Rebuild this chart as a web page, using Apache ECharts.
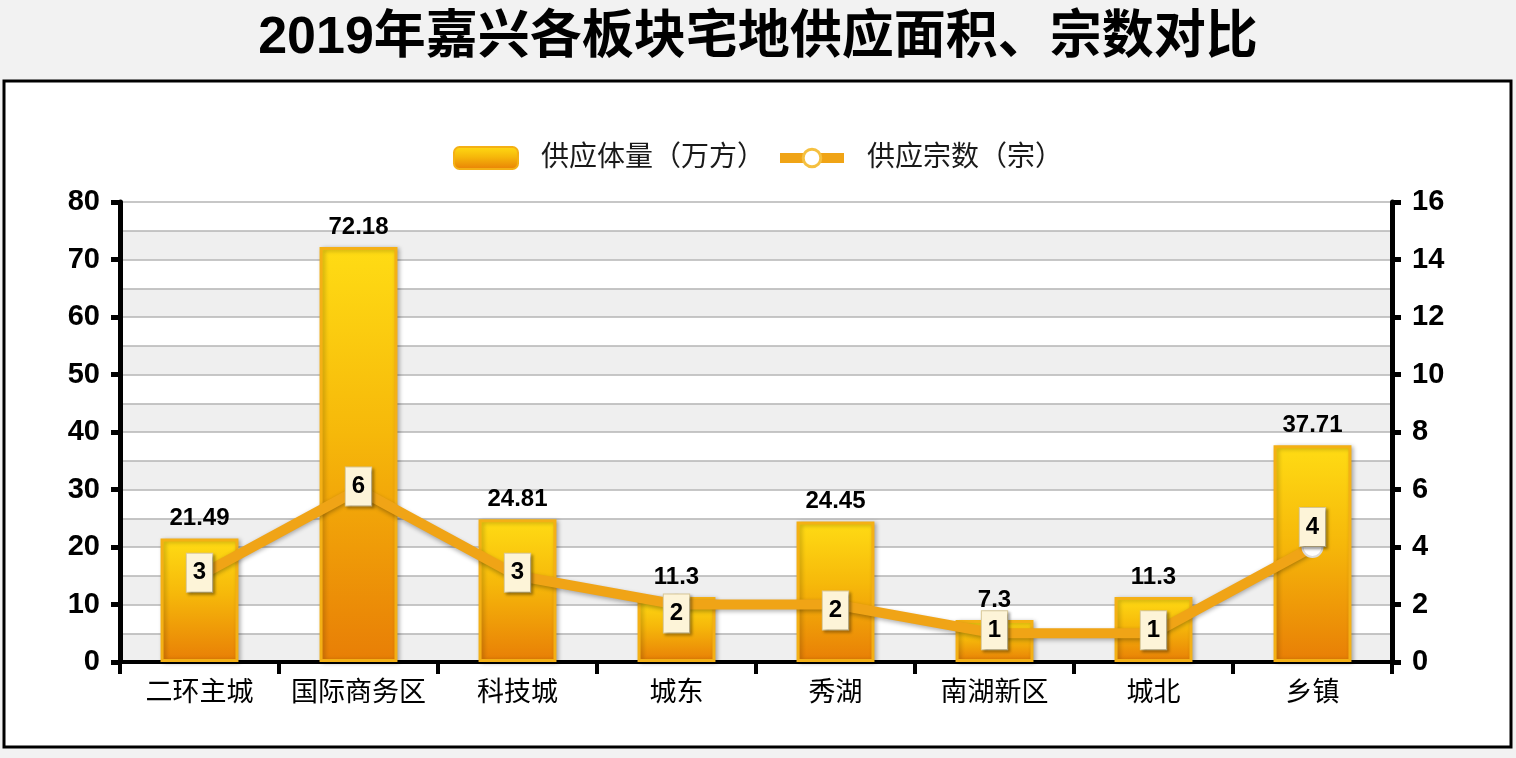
<!DOCTYPE html>
<html><head><meta charset="utf-8">
<script src="https://cdn.jsdelivr.net/npm/echarts@6/dist/echarts.min.js"></script>
<style>html,body{margin:0;padding:0;background:#f2f2f2;}#c{width:1516px;height:758px;}</style>
</head><body><div id="c"></div>
<script>
const categories = ['二环主城','国际商务区','科技城','城东','秀湖','南湖新区','城北','乡镇'];
const supplyArea = [21.49, 72.18, 24.81, 11.3, 24.45, 7.3, 11.3, 37.71];
const supplyCount = [3, 6, 3, 2, 2, 1, 1, 4];
const leftTicks = [0, 10, 20, 30, 40, 50, 60, 70, 80];
const rightTicks = [0, 2, 4, 6, 8, 10, 12, 14, 16];

const chart = echarts.init(document.getElementById('c'));
const font = '"Liberation Sans", Arial, "Noto Sans CJK SC", sans-serif';
const lineColor = '#f0a416';
// label placement tweaks (as in the source chart, labels were nudged individually)
const labelOffsets = { 3: [0, 9], 4: [0, 6], 7: [0, -20] };
const countData = supplyCount.map((v, i) => labelOffsets[i]
  ? { value: v, label: { offset: labelOffsets[i] } } : v);

chart.setOption({
  backgroundColor: '#f2f2f2',
  textStyle: { fontFamily: font },
  graphic: [{
    type: 'rect', z: -10, silent: true,
    shape: { x: 4, y: 81, width: 1507, height: 666 },
    style: { fill: '#ffffff', stroke: '#000000', lineWidth: 3 }
  }],
  title: {
    text: '2019年嘉兴各板块宅地供应面积、宗数对比',
    left: 'center', top: 8,
    textStyle: { fontSize: 52, fontWeight: 'bold', color: '#000', fontFamily: font }
  },
  legend: {
    top: 139, left: 'center',
    itemWidth: 64, itemHeight: 22, itemGap: 10,
    textStyle: { fontSize: 28, color: '#1a1a1a', fontFamily: font, padding: [0, 0, 0, 18] },
    data: [
      { name: '供应体量（万方）' },
      { name: '供应宗数（宗）', lineStyle: { width: 10, color: lineColor }, itemStyle: { color: '#fff', borderColor: '#f5c040', borderWidth: 3 } }
    ]
  },
  grid: { left: 120, right: 124, top: 202, bottom: 96 },
  xAxis: {
    type: 'category', data: categories, boundaryGap: true,
    axisLine: { lineStyle: { color: '#000', width: 4 } },
    axisTick: { show: true, length: 12, lineStyle: { color: '#000', width: 4 } },
    axisLabel: { interval: 0, fontSize: 27, color: '#000', margin: 18, fontFamily: font }
  },
  yAxis: [
    {
      type: 'value', min: leftTicks[0], max: leftTicks[leftTicks.length - 1], interval: leftTicks[1] - leftTicks[0],
      position: 'left',
      axisLine: { show: true, lineStyle: { color: '#000', width: 5 } },
      axisTick: { show: true, length: 9, lineStyle: { color: '#000', width: 5 } },
      axisLabel: { fontSize: 29, fontWeight: 'bold', color: '#000', margin: 20, fontFamily: font },
      splitLine: { show: false }
    },
    {
      type: 'value', min: rightTicks[0], max: rightTicks[rightTicks.length - 1], interval: rightTicks[1] - rightTicks[0],
      position: 'right',
      axisLine: { show: true, lineStyle: { color: '#000', width: 5 } },
      axisTick: { show: true, length: 9, lineStyle: { color: '#000', width: 5 } },
      axisLabel: { fontSize: 29, fontWeight: 'bold', color: '#000', margin: 20, fontFamily: font },
      splitLine: { show: false }
    },
    {
      type: 'value', min: 0, max: 80, interval: 5, position: 'left',
      axisLine: { show: false }, axisTick: { show: false }, axisLabel: { show: false },
      splitLine: { show: true, lineStyle: { color: '#b4b4b4', width: 1.5 } },
      splitArea: { show: true, areaStyle: { color: ['#efefef', '#ffffff'] } },
      z: 0
    }
  ],
  series: [
    {
      name: '供应体量（万方）', type: 'bar', yAxisIndex: 0, data: supplyArea,
      barWidth: '49%',
      itemStyle: {
        color: new echarts.graphic.LinearGradient(0, 0, 0, 1, [
          { offset: 0, color: '#ffdc14' },
          { offset: 0.45, color: '#f6b80a' },
          { offset: 1, color: '#e87e06' }
        ]),
        borderColor: '#f4b015', borderWidth: 3,
        shadowColor: 'rgba(0,0,0,0.25)', shadowBlur: 4, shadowOffsetX: 2, shadowOffsetY: 1
      },
      label: { show: true, position: 'top', distance: 8, fontSize: 24, fontWeight: 'bold', color: '#000', fontFamily: font },
      z: 2
    },
    {
      name: '供应宗数（宗）', type: 'line', yAxisIndex: 1, data: countData,
      symbol: 'circle', symbolSize: 20,
      lineStyle: { color: lineColor, width: 10, shadowColor: 'rgba(0,0,0,0.3)', shadowBlur: 4, shadowOffsetY: 2 },
      itemStyle: { color: '#ffffff', borderColor: '#dcdcdc', borderWidth: 2 },
      label: {
        show: true, position: 'inside', offset: [0, -3],
        fontSize: 24, fontWeight: 'bold', color: '#000', fontFamily: font,
        backgroundColor: '#fdf4d8', borderColor: '#d9c999', borderWidth: 1,
        padding: [8, 6, 6, 6], shadowColor: 'rgba(0,0,0,0.35)', shadowBlur: 3, shadowOffsetX: 2, shadowOffsetY: 2
      },
      z: 5
    }
  ]
});
</script></body></html>
